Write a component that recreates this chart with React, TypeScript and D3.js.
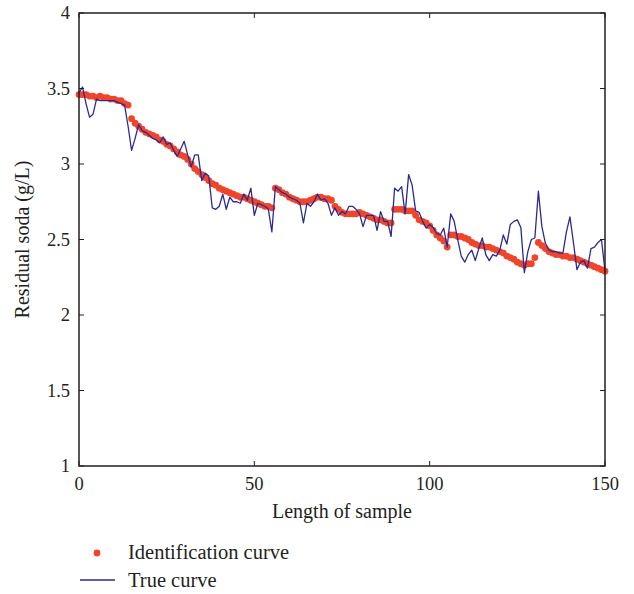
import React from "react";
import * as d3 from "d3";

const identification: number[] = [
  3.46, 3.46, 3.46, 3.45, 3.45, 3.44, 3.45, 3.44, 3.44, 3.43,
  3.43, 3.42, 3.42, 3.40, 3.39, 3.30, 3.27, 3.25, 3.23, 3.21,
  3.20, 3.19, 3.18, 3.16, 3.15, 3.13, 3.12, 3.10, 3.08, 3.06,
  3.05, 3.03, 3.00, 2.97, 2.95, 2.93, 2.91, 2.89, 2.87, 2.86,
  2.84, 2.83, 2.82, 2.81, 2.80, 2.79, 2.78, 2.78, 2.77, 2.76,
  2.75, 2.74, 2.73, 2.72, 2.72, 2.71, 2.84, 2.83, 2.81, 2.80,
  2.78, 2.77, 2.76, 2.75, 2.75, 2.75, 2.76, 2.77, 2.78, 2.78,
  2.77, 2.77, 2.76, 2.72, 2.70, 2.68, 2.67, 2.67, 2.67, 2.67,
  2.68, 2.67, 2.66, 2.65, 2.64, 2.63, 2.63, 2.62, 2.61, 2.61,
  2.70, 2.70, 2.70, 2.69, 2.69, 2.69, 2.66, 2.63, 2.62, 2.61,
  2.59, 2.56, 2.53, 2.51, 2.49, 2.45, 2.53, 2.53, 2.52, 2.52,
  2.51, 2.50, 2.48, 2.47, 2.46, 2.46, 2.45, 2.45, 2.44, 2.43,
  2.42, 2.41, 2.39, 2.38, 2.37, 2.35, 2.34, 2.33, 2.34, 2.34,
  2.38, 2.48, 2.46, 2.44, 2.42, 2.41, 2.40, 2.40, 2.39, 2.39,
  2.38, 2.38, 2.37, 2.36, 2.35, 2.34, 2.33, 2.32, 2.31, 2.30,
  2.29,
];

const trueCurve: number[] = [
  3.47, 3.51, 3.40, 3.31, 3.33, 3.43, 3.42, 3.42, 3.42, 3.42,
  3.42, 3.41, 3.40, 3.39, 3.25, 3.09, 3.17, 3.26, 3.22, 3.21,
  3.19, 3.17, 3.16, 3.14, 3.18, 3.13, 3.14, 3.09, 3.05, 3.10,
  3.15, 3.06, 2.98, 3.06, 3.06, 2.89, 2.94, 2.92, 2.71, 2.70,
  2.72, 2.80, 2.70, 2.78, 2.75, 2.75, 2.74, 2.80, 2.76, 2.84,
  2.66, 2.74, 2.73, 2.72, 2.70, 2.55, 2.85, 2.83, 2.81, 2.80,
  2.78, 2.77, 2.76, 2.74, 2.61, 2.74, 2.72, 2.75, 2.80, 2.76,
  2.77, 2.74, 2.66, 2.71, 2.66, 2.685, 2.67, 2.72, 2.72, 2.70,
  2.67, 2.585, 2.66, 2.66, 2.66, 2.56, 2.685, 2.62, 2.62, 2.52,
  2.84, 2.82, 2.85, 2.67, 2.93, 2.86, 2.69, 2.68, 2.62, 2.575,
  2.60, 2.58, 2.54, 2.53, 2.575, 2.45, 2.67, 2.62, 2.50, 2.39,
  2.35, 2.40, 2.43, 2.36, 2.44, 2.51, 2.40, 2.36, 2.40, 2.39,
  2.43, 2.53, 2.47, 2.60, 2.62, 2.63, 2.58, 2.28, 2.42, 2.50,
  2.51, 2.82, 2.585, 2.475, 2.43, 2.42, 2.42, 2.41, 2.41, 2.55,
  2.65, 2.48, 2.30, 2.35, 2.36, 2.31, 2.44, 2.45, 2.48, 2.50,
  2.29,
];

const xTicks: number[] = [0, 50, 100, 150];
const yTicks: number[] = [1, 1.5, 2, 2.5, 3, 3.5, 4];
const xLabel = "Length of sample";
const yLabel = "Residual soda (g/L)";
const legendLabels: string[] = ["Identification curve", "True curve"];

const W = 634;
const H = 594;
const M = { left: 79, right: 605, top: 13, bottom: 466 };
const RED = "#f0452b";
const BLUE = "#2c2a92";
const FONT = "'Liberation Serif', 'DejaVu Serif', serif";
const INK = "#231f20";

export default function App() {
  const x = d3.scaleLinear().domain([0, 150]).range([M.left, M.right]);
  const y = d3.scaleLinear().domain([1, 4]).range([M.bottom, M.top]);
  const line = d3
    .line<number>()
    .x((_, i) => x(i))
    .y((d) => y(d));
  const tickLen = 5;

  return (
    <svg
      width={W}
      height={H}
      style={{ position: "absolute", left: 0, top: 0, background: "#fff" }}
      fontFamily={FONT}
    >
      <rect x={0} y={0} width={W} height={H} fill="#fff" />
      <g>
        {identification.map((v, i) => (
          <circle key={i} cx={x(i)} cy={y(v)} r={3.4} fill={RED} />
        ))}
      </g>
      <path d={line(trueCurve) || ""} fill="none" stroke={BLUE} strokeWidth={1.3} strokeLinejoin="round" />

      <rect
        x={M.left}
        y={M.top}
        width={M.right - M.left}
        height={M.bottom - M.top}
        fill="none"
        stroke={INK}
        strokeWidth={1.5}
      />
      {xTicks.map((t) => (
        <g key={"xt" + t}>
          <line x1={x(t)} x2={x(t)} y1={M.bottom} y2={M.bottom - tickLen} stroke={INK} strokeWidth={1} />
          <line x1={x(t)} x2={x(t)} y1={M.top} y2={M.top + tickLen} stroke={INK} strokeWidth={1} />
          <text x={x(t)} y={M.bottom + 24} textAnchor="middle" fontSize={18.5} fill={INK}>
            {t}
          </text>
        </g>
      ))}
      {yTicks.map((t) => (
        <g key={"yt" + t}>
          <line x1={M.left} x2={M.left + tickLen} y1={y(t)} y2={y(t)} stroke={INK} strokeWidth={1} />
          <line x1={M.right} x2={M.right - tickLen} y1={y(t)} y2={y(t)} stroke={INK} strokeWidth={1} />
          <text x={M.left - 9} y={y(t) + 6} textAnchor="end" fontSize={18.5} fill={INK}>
            {t}
          </text>
        </g>
      ))}
      <text x={(M.left + M.right) / 2} y={518} textAnchor="middle" fontSize={20} fill={INK}>
        {xLabel}
      </text>
      <text
        transform={`translate(29, ${(M.top + M.bottom) / 2}) rotate(-90)`}
        textAnchor="middle"
        fontSize={20}
        fill={INK}
      >
        {yLabel}
      </text>

      <circle cx={97} cy={553} r={3.4} fill={RED} />
      <text x={128} y={559} fontSize={20.5} fill={INK}>
        {legendLabels[0]}
      </text>
      <line x1={80} x2={115} y1={580} y2={580} stroke={BLUE} strokeWidth={1.3} />
      <text x={128} y={587} fontSize={20.5} fill={INK}>
        {legendLabels[1]}
      </text>
    </svg>
  );
}
